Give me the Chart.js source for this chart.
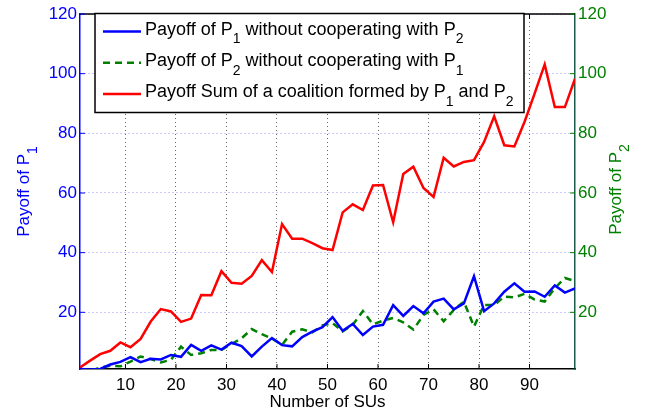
<!DOCTYPE html>
<html lang="en">
<head>
<meta charset="UTF-8">
<title>Payoff vs Number of SUs</title>
<script src="https://cdn.jsdelivr.net/npm/chart.js"></script>
<style>
    body {
        margin: 0;
        background: #fff;
    }
</style>
</head>
<body>
<canvas id="chart" width="653" height="414"></canvas>

<script>
// number of secondary users (x values)
const numSUs = [1, 3, 5, 7, 9, 11, 13, 15, 17, 19, 21, 23, 25, 27, 29, 31, 33, 35, 37, 39,
    41, 43, 45, 47, 49, 51, 53, 55, 57, 59, 61, 63, 65, 67, 69, 71, 73, 75, 77, 79,
    81, 83, 85, 87, 89, 91, 93, 95, 97, 99];

// payoff of P1 alone (left axis)
const payoffP1 = [1.0, 0.8, 1.0, 2.5, 3.4, 5.0, 3.3, 4.4, 4.2, 5.7, 5.1, 9.1, 7.1, 8.9, 7.5, 9.8, 8.7, 5.2, 8.5, 11.4,
    9.0, 8.6, 11.7, 13.5, 15.0, 18.4, 13.8, 16.1, 12.4, 15.2, 15.8, 22.4, 18.8, 22.1, 19.7, 23.6, 24.6, 21.0, 23.0, 32.1,
    20.4, 23.0, 26.9, 29.7, 26.9, 27.0, 25.2, 29.0, 26.6, 28.0];

// payoff of P2 alone (right axis)
const payoffP2 = [0.0, 0.3, 1.5, 2.1, 1.9, 3.5, 5.2, 4.3, 3.2, 4.1, 8.5, 5.7, 6.3, 7.4, 7.4, 9.4, 11.3, 14.4, 12.7, 11.2,
    9.1, 13.5, 14.3, 13.3, 15.6, 16.4, 13.6, 15.8, 20.4, 16.0, 17.2, 18.1, 16.6, 14.2, 19.1, 21.0, 17.0, 20.8, 23.6, 15.2,
    22.5, 22.4, 25.3, 25.0, 26.2, 24.3, 23.6, 28.1, 31.5, 30.5];

// payoff sum of the coalition (left axis)
const payoffSum = [1.5, 3.8, 6.0, 7.1, 9.9, 8.3, 11.1, 16.9, 21.1, 20.3, 16.8, 17.9, 25.8, 25.7, 33.8, 29.9, 29.6, 32.2, 37.5, 33.5,
    49.6, 44.7, 44.7, 43.2, 41.5, 40.9, 53.5, 56.2, 54.3, 62.5, 62.7, 50.2, 66.4, 68.8, 61.7, 58.7, 71.8, 68.9, 70.4, 71.0,
    77.1, 85.7, 76.0, 75.6, 83.8, 93.3, 103.1, 88.8, 88.8, 98.3];

const xTicks = [10, 20, 30, 40, 50, 60, 70, 80, 90];
const yTicks = [20, 40, 60, 80, 100, 120];

// "_n" marks a subscript digit
const legendLabels = [
    'Payoff of P_1 without cooperating with P_2',
    'Payoff of P_2 without cooperating with P_1',
    'Payoff Sum of a coalition formed by P_1 and P_2'
];
const xTitle = 'Number of SUs';
const leftTitle = 'Payoff of P_1';
const rightTitle = 'Payoff of P_2';

const FONT = '"Liberation Sans", Arial, Helvetica, sans-serif';
const BLUE = '#0000ff';
const GREEN = '#008000';
const RED = '#ff0000';

function toPoints(ys) {
    return numSUs.map((x, i) => ({ x: x, y: ys[i] }));
}

// draw text with subscripts, left aligned on baseline y; returns end x
function drawRich(ctx, text, x, y, size) {
    const parts = text.split(/_(\d)/);
    parts.forEach((p, i) => {
        const sub = i % 2 === 1;
        ctx.font = (sub ? Math.round(size * 0.8) : size) + 'px ' + FONT;
        ctx.fillText(p, x, sub ? y + size * 0.47 : y);
        x += ctx.measureText(p).width;
    });
    return x;
}

function richWidth(ctx, text, size) {
    let w = 0;
    text.split(/_(\d)/).forEach((p, i) => {
        ctx.font = (i % 2 === 1 ? Math.round(size * 0.8) : size) + 'px ' + FONT;
        w += ctx.measureText(p).width;
    });
    return w;
}

function seg(ctx, x1, y1, x2, y2) {
    ctx.beginPath();
    ctx.moveTo(x1, y1);
    ctx.lineTo(x2, y2);
    ctx.stroke();
}

const decorPlugin = {
    id: 'decor',
    afterDraw(chart) {
        const ctx = chart.ctx;
        const a = chart.chartArea;
        const sx = chart.scales.x, sy = chart.scales.y;
        ctx.save();

        // top frame
        ctx.lineWidth = 1.5;
        ctx.strokeStyle = '#000';
        seg(ctx, a.left, a.top, a.right, a.top);

        // inward tick marks
        ctx.lineWidth = 1;
        xTicks.forEach(v => {
            const px = sx.getPixelForValue(v);
            seg(ctx, px, a.bottom, px, a.bottom - 5);
            seg(ctx, px, a.top, px, a.top + 5);
        });
        yTicks.forEach(v => {
            const py = sy.getPixelForValue(v);
            ctx.strokeStyle = BLUE;
            seg(ctx, a.left, py, a.left + 5, py);
            ctx.strokeStyle = GREEN;
            seg(ctx, a.right, py, a.right - 5, py);
        });

        // legend box
        const bx = a.left + 15, by = a.top - 0.5, bw = 429, bh = 99;
        ctx.fillStyle = '#fff';
        ctx.fillRect(bx, by, bw, bh);
        ctx.strokeStyle = '#000';
        ctx.lineWidth = 1.5;
        ctx.strokeRect(bx, by, bw, bh);
        chart.data.datasets.forEach((ds, i) => {
            const ly = by + 18 + i * 31.2;
            ctx.strokeStyle = ds.borderColor;
            ctx.lineWidth = ds.borderWidth;
            ctx.setLineDash(ds.borderDash || []);
            seg(ctx, bx + 8, ly, bx + 46, ly);
            ctx.setLineDash([]);
            ctx.fillStyle = '#000';
            ctx.textBaseline = 'alphabetic';
            drawRich(ctx, legendLabels[i], bx + 50, ly + 3.5, 18);
        });

        // axis titles
        ctx.fillStyle = '#000';
        let w = richWidth(ctx, xTitle, 17);
        drawRich(ctx, xTitle, (a.left + a.right) / 2 - w / 2, 407, 17);

        const midY = (a.top + a.bottom) / 2;
        ctx.fillStyle = BLUE;
        w = richWidth(ctx, leftTitle, 17);
        ctx.save();
        ctx.translate(29, midY);
        ctx.rotate(-Math.PI / 2);
        drawRich(ctx, leftTitle, -w / 2, 0, 17);
        ctx.restore();

        ctx.fillStyle = GREEN;
        w = richWidth(ctx, rightTitle, 17);
        ctx.save();
        ctx.translate(621, midY - 2);
        ctx.rotate(-Math.PI / 2);
        drawRich(ctx, rightTitle, -w / 2, 0, 17);
        ctx.restore();

        ctx.restore();
    }
};

const tickFont = { family: FONT, size: 17 };

new Chart(document.getElementById('chart'), {
    type: 'line',
    data: {
        datasets: [
            {
                label: legendLabels[0],
                data: toPoints(payoffP1),
                yAxisID: 'y',
                borderColor: BLUE,
                borderWidth: 2.5,
                pointRadius: 0,
                tension: 0
            },
            {
                label: legendLabels[1],
                data: toPoints(payoffP2),
                yAxisID: 'y2',
                borderColor: GREEN,
                borderWidth: 2.5,
                borderDash: [7, 5],
                pointRadius: 0,
                tension: 0
            },
            {
                label: legendLabels[2],
                data: toPoints(payoffSum),
                yAxisID: 'y',
                borderColor: RED,
                borderWidth: 2.5,
                pointRadius: 0,
                tension: 0
            }
        ]
    },
    options: {
        responsive: false,
        animation: false,
        layout: { padding: { top: 14, left: 0, right: 0, bottom: 0 } },
        plugins: {
            legend: { display: false },
            tooltip: { enabled: false }
        },
        scales: {
            x: {
                type: 'linear',
                min: 1,
                max: 99,
                afterBuildTicks: s => { s.ticks = xTicks.map(v => ({ value: v })); },
                afterFit: s => { s.height = 45; },
                grid: { color: '#666', lineWidth: 1, drawTicks: false },
                border: { color: '#000', width: 1.5, dash: [1, 3] },
                ticks: { color: '#000', font: tickFont, padding: 6, maxRotation: 0 }
            },
            y: {
                position: 'left',
                min: 1,
                max: 120,
                afterBuildTicks: s => { s.ticks = yTicks.map(v => ({ value: v })); },
                afterFit: s => { s.width = 80; },
                grid: { color: 'rgba(80,80,255,0.6)', lineWidth: 1, drawTicks: false },
                border: { color: BLUE, width: 1.5, dash: [1, 3] },
                ticks: { color: BLUE, font: tickFont, padding: 3 }
            },
            y2: {
                position: 'right',
                min: 1,
                max: 120,
                afterBuildTicks: s => { s.ticks = yTicks.map(v => ({ value: v })); },
                afterFit: s => { s.width = 78; },
                grid: { drawOnChartArea: false, drawTicks: false },
                border: { color: '#1a5a4a', width: 1.5 },
                ticks: { color: GREEN, font: tickFont, padding: 3 }
            }
        }
    },
    plugins: [decorPlugin]
});
</script>
</body>
</html>
